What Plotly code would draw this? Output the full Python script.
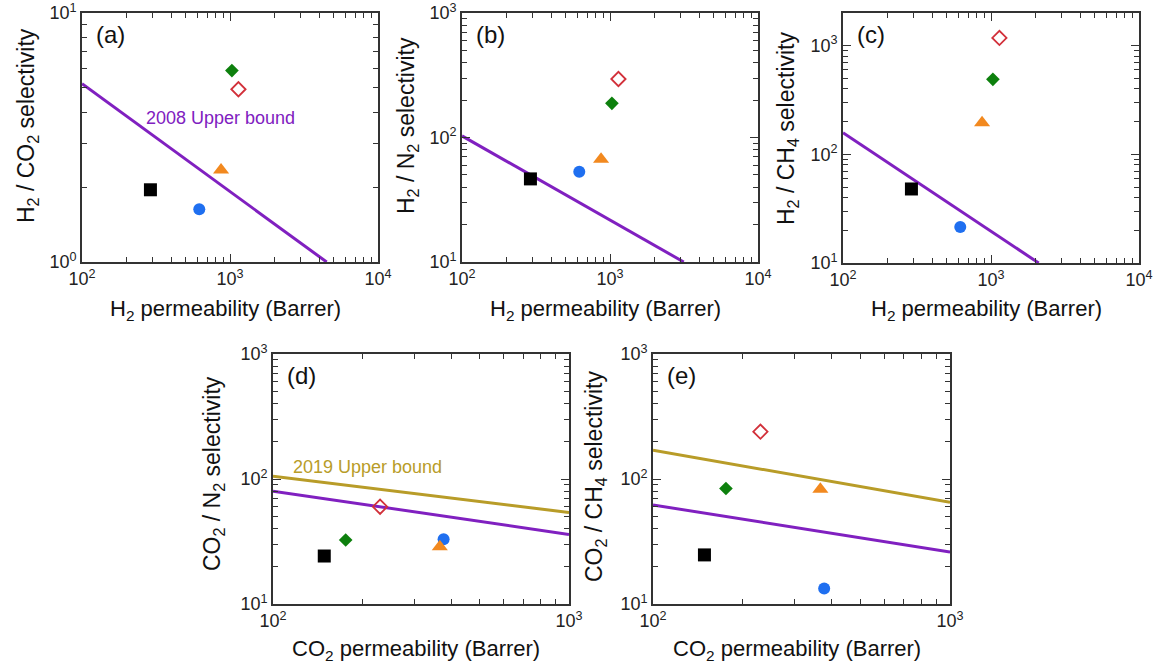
import plotly.graph_objects as go
import math

# ---------------- data ----------------
samples = ["Sample A", "Sample B", "Sample C", "Sample D", "Sample E"]
symbols = ["square", "circle", "triangle-up", "diamond", "diamond-open"]
colors = ["#000000", "#1f6ff0", "#f2891f", "#0d800d", "#d2303a"]
sizes = [13, 12, 14, 10.5, 11]

h2_perm = [290, 620, 870, 1030, 1140]
sel_h2_co2 = [1.95, 1.63, 2.34, 5.87, 4.94]
sel_h2_n2 = [46.5, 53, 67, 188, 295]
sel_h2_ch4 = [48, 21.4, 195, 490, 1180]

co2_perm = [149, 377, 366, 176, 230]
sel_co2_n2 = [24.2, 32.9, 28.7, 32.5, 60]
sel_co2_ch4 = [24.7, 13.3, 82.7, 84, 239]

# upper-bound endpoints
ub2008_h2co2_x = [100, 4500]
ub2008_h2co2_y = [5.2, 1.0]
ub2008_h2n2_x = [100, 3150]
ub2008_h2n2_y = [103, 10]
ub2008_h2ch4_x = [100, 2100]
ub2008_h2ch4_y = [158, 10]
ub2008_co2n2_x = [100, 1000]
ub2008_co2n2_y = [80, 36]
ub2019_co2n2_x = [100, 1000]
ub2019_co2n2_y = [105, 54]
ub2008_co2ch4_x = [100, 1000]
ub2008_co2ch4_y = [62, 26]
ub2019_co2ch4_x = [100, 1000]
ub2019_co2ch4_y = [170, 65]

PURPLE = "#8020c0"
GOLD = "#b89c28"
FONT = "Liberation Sans, Arial, sans-serif"

W, H = 1156, 672


def px_x(p):
    return p / W


def px_y(p):
    return 1 - p / H


panels = [
    dict(x=(82, 378), y=(13, 262), xr=[2, 4], yr=[0, 1], xs=h2_perm, ys=sel_h2_co2,
         lines=[(ub2008_h2co2_x, ub2008_h2co2_y, PURPLE)], lab="(a)",
         ytitle="H<sub>2</sub> / CO<sub>2</sub> selectivity", xtitle="H<sub>2</sub> permeability (Barrer)",
         ytx=27, yty=126, xty=310, ytickvals=[1, 10]),
    dict(x=(462, 758), y=(13, 262), xr=[2, 4], yr=[1, 3], xs=h2_perm, ys=sel_h2_n2,
         lines=[(ub2008_h2n2_x, ub2008_h2n2_y, PURPLE)], lab="(b)",
         ytitle="H<sub>2</sub> / N<sub>2</sub> selectivity", xtitle="H<sub>2</sub> permeability (Barrer)",
         ytx=407, yty=126, xty=310, ytickvals=[10, 100, 1000]),
    dict(x=(843, 1139), y=(13, 263), xr=[2, 4], yr=[1, 3.301], xs=h2_perm, ys=sel_h2_ch4,
         lines=[(ub2008_h2ch4_x, ub2008_h2ch4_y, PURPLE)], lab="(c)",
         ytitle="H<sub>2</sub> / CH<sub>4</sub> selectivity", xtitle="H<sub>2</sub> permeability (Barrer)",
         ytx=787, yty=128, xty=310, ytickvals=[10, 100, 1000]),
    dict(x=(273, 569), y=(354, 604), xr=[2, 3], yr=[1, 3], xs=co2_perm, ys=sel_co2_n2,
         lines=[(ub2019_co2n2_x, ub2019_co2n2_y, GOLD), (ub2008_co2n2_x, ub2008_co2n2_y, PURPLE)], lab="(d)",
         ytitle="CO<sub>2</sub> / N<sub>2</sub> selectivity", xtitle="CO<sub>2</sub> permeability (Barrer)",
         ytx=213, yty=474, xty=650, ytickvals=[10, 100, 1000]),
    dict(x=(653, 950), y=(354, 604), xr=[2, 3], yr=[1, 3], xs=co2_perm, ys=sel_co2_ch4,
         lines=[(ub2019_co2ch4_x, ub2019_co2ch4_y, GOLD), (ub2008_co2ch4_x, ub2008_co2ch4_y, PURPLE)], lab="(e)",
         ytitle="CO<sub>2</sub> / CH<sub>4</sub> selectivity", xtitle="CO<sub>2</sub> permeability (Barrer)",
         ytx=595, yty=476, xty=650, ytickvals=[10, 100, 1000]),
]

fig = go.Figure()
annotations = []
layout = {}


def exp_label(v):
    return "10<sup>%d</sup>" % round(math.log10(v))


for i, p in enumerate(panels):
    n = "" if i == 0 else str(i + 1)
    xa, ya = "x" + n, "y" + n
    for (lx, ly, lc) in p["lines"]:
        fig.add_trace(go.Scatter(x=lx, y=ly, mode="lines", line=dict(color=lc, width=3),
                                 showlegend=False, xaxis=xa, yaxis=ya, hoverinfo="skip"))
    for k in range(len(samples)):
        fig.add_trace(go.Scatter(
            x=[p["xs"][k]], y=[p["ys"][k]], mode="markers", name=samples[k], showlegend=False,
            marker=dict(symbol=symbols[k], color=colors[k], size=sizes[k],
                        line=dict(color=colors[k], width=1.8 if "open" in symbols[k] else 0)),
            xaxis=xa, yaxis=ya))
    xticks = [10 ** e for e in range(int(p["xr"][0]), int(p["xr"][1]) + 1)]
    xminor = [m * 10 ** e for e in range(int(p["xr"][0]), int(p["xr"][1])) for m in range(2, 10)]
    yminor = [m * 10 ** e for e in range(int(p["yr"][0]), 4) for m in range(2, 10)]
    common = dict(type="log", automargin=False, showgrid=False, zeroline=False, showline=True,
                  linecolor="#333333", linewidth=1.6, mirror="ticks", ticks="inside", ticklen=8,
                  tickwidth=1.3, tickcolor="#333333",
                  tickfont=dict(family=FONT, size=18, color="#222222"))
    layout["xaxis" + n] = dict(common, domain=[px_x(p["x"][0]), px_x(p["x"][1])], range=p["xr"],
                               anchor=ya, tickmode="array", tickvals=xticks,
                               ticktext=[exp_label(v) for v in xticks],
                               minor=dict(tickmode="array", tickvals=xminor, ticks="inside",
                                          ticklen=5, tickwidth=1.1, tickcolor="#333333", showgrid=False))
    layout["yaxis" + n] = dict(common, domain=[px_y(p["y"][1]), px_y(p["y"][0])], range=p["yr"],
                               anchor=xa, tickmode="array", tickvals=p["ytickvals"],
                               ticktext=[exp_label(v) for v in p["ytickvals"]],
                               minor=dict(tickmode="array", tickvals=yminor, ticks="inside",
                                          ticklen=5, tickwidth=1.1, tickcolor="#333333", showgrid=False))
    annotations.append(dict(text=p["lab"], xref=xa + " domain", yref=ya + " domain", x=0.04, y=0.975,
                            xanchor="left", yanchor="top", showarrow=False,
                            font=dict(family=FONT, size=24, color="#111111")))
    annotations.append(dict(text=p["xtitle"], xref="paper", yref="paper",
                            x=px_x((p["x"][0] + p["x"][1]) / 2 - 5), y=px_y(p["xty"]),
                            xanchor="center", yanchor="middle", showarrow=False,
                            font=dict(family=FONT, size=22, color="#111111")))
    annotations.append(dict(text=p["ytitle"], xref="paper", yref="paper",
                            x=px_x(p["ytx"]), y=px_y(p["yty"]),
                            xanchor="center", yanchor="middle", textangle=-90, showarrow=False,
                            font=dict(family=FONT, size=23, color="#111111")))

annotations.append(dict(text="2008 Upper bound", xref="paper", yref="paper",
                        x=px_x(220), y=px_y(118), xanchor="center", yanchor="middle",
                        showarrow=False, font=dict(family=FONT, size=18, color=PURPLE)))
annotations.append(dict(text="2019 Upper bound", xref="paper", yref="paper",
                        x=px_x(367), y=px_y(467), xanchor="center", yanchor="middle",
                        showarrow=False, font=dict(family=FONT, size=18, color=GOLD)))

fig.update_layout(width=W, height=H, margin=dict(l=0, r=0, t=0, b=0, autoexpand=False),
                  paper_bgcolor="white", plot_bgcolor="white",
                  annotations=annotations, showlegend=False, **layout)

fig.write_html("out.html", post_script="document.body.style.margin='0';",
               config={"displayModeBar": False})
